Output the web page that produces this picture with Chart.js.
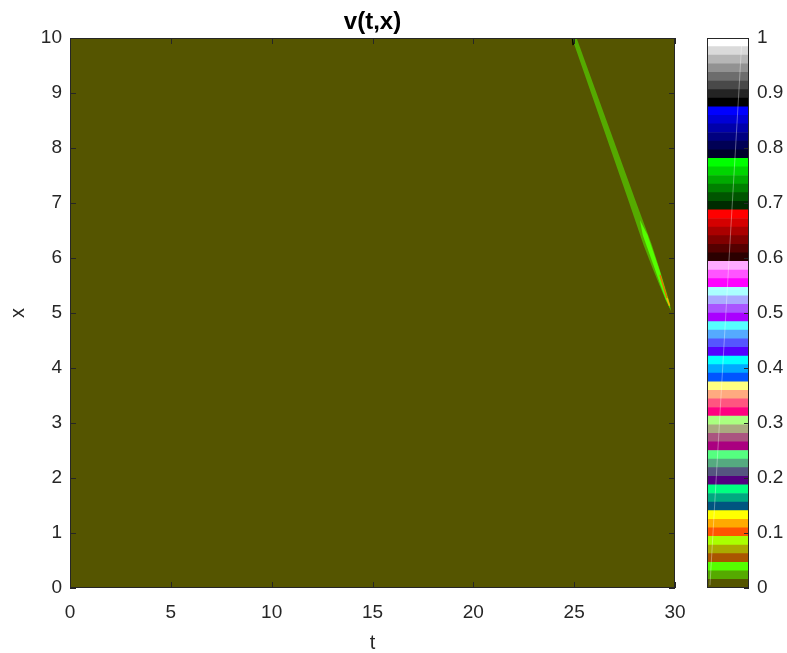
<!DOCTYPE html>
<html>
<head>
<meta charset="utf-8">
<script src="https://cdn.jsdelivr.net/npm/chart.js@4.4.1/dist/chart.umd.min.js"></script>
<style>
  html, body { margin: 0; padding: 0; background: #fff; }
  #wrap { position: relative; width: 787px; height: 653px; }
  #main { position: absolute; left: 0; top: 0; width: 700px; height: 653px; }
  #cbar { position: absolute; left: 700px; top: 0; width: 87px; height: 653px; }
</style>
</head>
<body>
<div id="wrap">
  <div id="main"><canvas id="field"></canvas></div>
  <div id="cbar"><canvas id="colorbar"></canvas></div>
</div>
<script>
// axis ticks
const tTicks = [0, 5, 10, 15, 20, 25, 30];
const xTicks = [0, 1, 2, 3, 4, 5, 6, 7, 8, 9, 10];
const cbTicks = [0, 0.1, 0.2, 0.3, 0.4, 0.5, 0.6, 0.7, 0.8, 0.9, 1];

// colorcube(64), from value 0 (bottom) to 1 (top)
const colormap = [
  "#555500", "#55aa00", "#55ff00", "#aa5500", "#aaaa00", "#aaff00", "#ff5500", "#ffaa00",
  "#ffff00", "#005580", "#00aa80", "#00ff80", "#550080", "#555580", "#55aa80", "#55ff80",
  "#aa0080", "#aa5580", "#aaaa80", "#aaff80", "#ff0080", "#ff5580", "#ffaa80", "#ffff80",
  "#0055ff", "#00aaff", "#00ffff", "#5500ff", "#5555ff", "#55aaff", "#55ffff", "#aa00ff",
  "#aa55ff", "#aaaaff", "#aaffff", "#ff00ff", "#ff55ff", "#ffaaff", "#2b0000", "#550000",
  "#800000", "#aa0000", "#d50000", "#ff0000", "#002b00", "#005500", "#008000", "#00aa00",
  "#00d500", "#00ff00", "#00002b", "#000055", "#000080", "#0000aa", "#0000d5", "#0000ff",
  "#000000", "#242424", "#494949", "#6d6d6d", "#929292", "#b6b6b6", "#dadada", "#ffffff"
];

// v is ~0 over the whole (t,x) domain
const fieldT = [0, 30];
const fieldX = [10, 10];

// the travelling front: outer band (v ~ 0.02)
const streakLeftT  = [24.505, 24.892, 26.476, 27.682, 28.440, 28.923, 29.227, 29.534, 29.826];
const streakLeftX  = [10.4, 10.0, 8.327, 7.055, 6.236, 5.782, 5.509, 5.236, 5.018];
const streakRightT = [24.733, 25.120, 26.774, 28.030, 28.856, 29.251, 29.475, 29.698, 29.826];
const streakRightX = [10.4, 10.0, 8.327, 7.055, 6.236, 5.782, 5.509, 5.236, 5.018];

// inner core (v ~ 0.04)
const coreLeftT  = [28.259, 28.400, 29.019, 29.290, 29.550, 29.776];
const coreLeftX  = [6.69, 6.42, 5.78, 5.50, 5.24, 5.07];
const coreRightT = [28.259, 28.640, 29.230, 29.460, 29.670, 29.776];
const coreRightX = [6.69, 6.42, 5.78, 5.50, 5.24, 5.07];

// thin peak near the end of the front
const peakT = [29.256, 29.603];
const peakX = [5.691, 5.273];
const tipT = [29.603, 29.73];
const tipX = [5.273, 5.13];

// small spot where the front enters
const spotT = [24.92, 24.95];
const spotX = [10.0, 9.87];

// faint streak across the colour bar (x in bar width fraction, y in value)
const cbStreakX = [0.83, 0.07];
const cbStreakY = [0.996, 0.005];

const pts = (ts, xs) => ts.map((t, i) => ({ x: t, y: xs[i] }));
const fmt = (v) => String(+v.toFixed(1));

Chart.defaults.font.family = "'Liberation Sans', Arial, Helvetica, sans-serif";
Chart.defaults.color = "#262626";

const boxTicks = {
  id: "boxTicks",
  afterDatasetsDraw(chart, args, opts) {
    const { ctx, chartArea: a, scales } = chart;
    const len = opts.len;
    ctx.save();
    ctx.strokeStyle = "#262626";
    ctx.lineWidth = 1;
    ctx.beginPath();
    if (opts.xTicks) {
      scales.x.ticks.forEach((tk) => {
        const p = Math.round(scales.x.getPixelForValue(tk.value)) + 0.5;
        ctx.moveTo(p, a.bottom);
        ctx.lineTo(p, a.bottom - len);
        ctx.moveTo(p, a.top);
        ctx.lineTo(p, a.top + len);
      });
    }
    scales.y.ticks.forEach((tk) => {
      const p = Math.round(scales.y.getPixelForValue(tk.value)) + 0.5;
      if (opts.leftTicks) {
        ctx.moveTo(a.left, p);
        ctx.lineTo(a.left + len, p);
      }
      ctx.moveTo(a.right, p);
      ctx.lineTo(a.right - len, p);
    });
    ctx.stroke();
    ctx.strokeRect(
      Math.round(a.left) + 0.5,
      Math.round(a.top) + 0.5,
      Math.round(a.right - a.left) - 1,
      Math.round(a.bottom - a.top) - 1
    );
    ctx.restore();
  },
};

const flat = { type: "line", borderWidth: 0, pointRadius: 0, tension: 0 };

new Chart(document.getElementById("field"), {
  type: "scatter",
  data: {
    datasets: [
      { ...flat, data: pts(fieldT, fieldX), fill: "start", backgroundColor: colormap[0], order: 10 },
      { ...flat, data: pts(streakLeftT, streakLeftX), fill: "+1", backgroundColor: colormap[1], order: 8 },
      { ...flat, data: pts(streakRightT, streakRightX), fill: false, order: 8 },
      { ...flat, data: pts(coreLeftT, coreLeftX), fill: "+1", backgroundColor: colormap[2], order: 6 },
      { ...flat, data: pts(coreRightT, coreRightX), fill: false, order: 6 },
      { ...flat, data: pts(peakT, peakX), borderWidth: 1.2, borderColor: colormap[6], fill: false, order: 4 },
      { ...flat, data: pts(tipT, tipX), borderWidth: 1.5, borderColor: colormap[7], fill: false, order: 3 },
      { ...flat, data: pts(spotT, spotX), borderWidth: 1.5, borderColor: colormap[56], fill: false, order: 2 },
    ],
  },
  options: {
    responsive: true,
    maintainAspectRatio: false,
    animation: false,
    layout: { padding: { left: 0, right: 25, top: 0, bottom: 0 } },
    scales: {
      x: {
        type: "linear",
        min: 0,
        max: 30,
        afterBuildTicks: (s) => { s.ticks = tTicks.map((v) => ({ value: v })); },
        afterFit: (s) => { s.height = 65; },
        ticks: { font: { size: 19 }, color: "#262626", padding: 13, maxRotation: 0 },
        grid: { display: false, drawTicks: false },
        border: { display: false },
        title: { display: true, text: "t", font: { size: 20, lineHeight: 1 }, color: "#262626", padding: 0 },
      },
      y: {
        type: "linear",
        min: 0,
        max: 10,
        afterBuildTicks: (s) => { s.ticks = xTicks.map((v) => ({ value: v })); },
        afterFit: (s) => { s.width = 70; },
        ticks: { font: { size: 19 }, color: "#262626", padding: 8 },
        grid: { display: false, drawTicks: false },
        border: { display: false },
        title: { display: true, text: "x", font: { size: 20, lineHeight: 1 }, color: "#262626", padding: { top: 8, bottom: 0 } },
      },
    },
    plugins: {
      legend: { display: false },
      tooltip: { enabled: false },
      title: {
        display: true,
        text: "v(t,x)",
        fullSize: false,
        color: "#000000",
        font: { size: 24, weight: "bold", lineHeight: 1.2 },
        padding: { top: 8, bottom: 1.2 },
      },
      boxTicks: { len: 6, xTicks: true, leftTicks: true },
    },
  },
  plugins: [boxTicks],
});

// one stacked band per colormap entry, each 1/64 of the value range
const bandDatasets = colormap.map((c) => ({
  data: [{ x: 0.5, y: 1 / colormap.length }],
  backgroundColor: c,
  borderWidth: 0,
  barPercentage: 1,
  categoryPercentage: 1,
  stack: "bands",
  order: 2,
}));

new Chart(document.getElementById("colorbar"), {
  type: "bar",
  data: {
    datasets: [
      ...bandDatasets,
      {
        type: "line",
        data: cbStreakX.map((x, i) => ({ x: x, y: cbStreakY[i] })),
        borderColor: "rgba(255,255,255,0.35)",
        borderWidth: 1,
        pointRadius: 0,
        fill: false,
        stack: "streak",
        order: 1,
      },
    ],
  },
  options: {
    responsive: true,
    maintainAspectRatio: false,
    animation: false,
    layout: { padding: { left: 7, right: 0, top: 38, bottom: 65 } },
    scales: {
      x: {
        type: "linear",
        display: false,
        stacked: true,
        offset: false,
        min: 0,
        max: 1,
        afterBuildTicks: (s) => { s.ticks = [{ value: 0 }, { value: 1 }]; },
      },
      y: {
        type: "linear",
        stacked: true,
        position: "right",
        min: 0,
        max: 1,
        afterBuildTicks: (s) => { s.ticks = cbTicks.map((v) => ({ value: v })); },
        afterFit: (s) => { s.width = 38; },
        ticks: { font: { size: 19 }, color: "#262626", padding: 8, callback: (v) => fmt(v) },
        grid: { display: false, drawTicks: false },
        border: { display: false },
      },
    },
    plugins: {
      legend: { display: false },
      tooltip: { enabled: false },
      boxTicks: { len: 5, xTicks: false, leftTicks: false },
    },
  },
  plugins: [boxTicks],
});
</script>
</body>
</html>
